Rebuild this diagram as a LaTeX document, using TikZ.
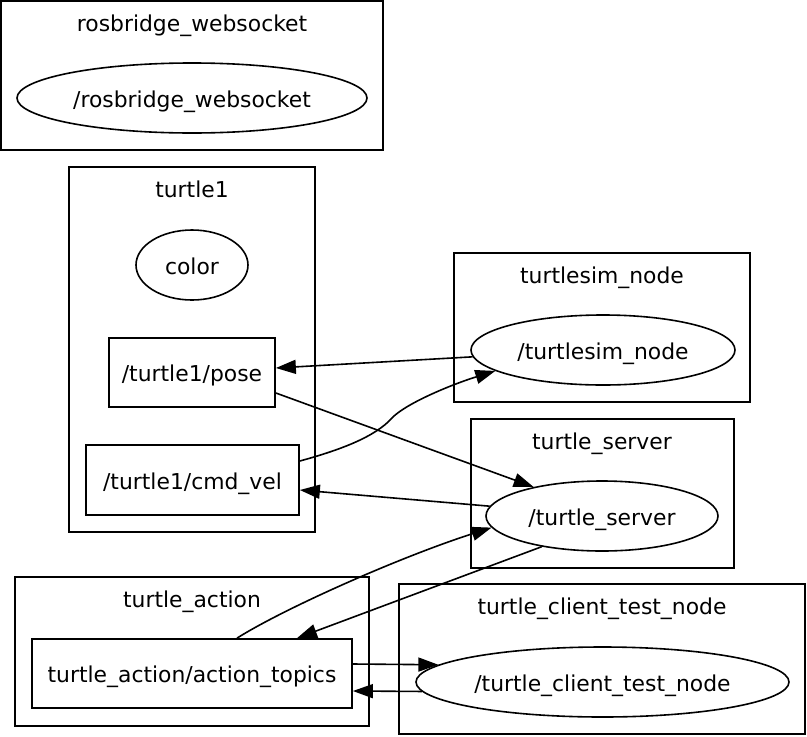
\documentclass[tikz,border=0pt]{standalone}
\usepackage{fontspec}
\setmainfont{DejaVu Sans}
\usetikzlibrary{shapes.geometric,arrows.meta,calc}
\def\pxl{0.75pt}
\begin{document}
\begin{tikzpicture}[x=0.75pt,y=-0.75pt,
  every node/.style={font=\fontsize{16.4}{19}\selectfont},
  cluster/.style={rectangle,draw,line width=1.3pt,inner sep=0pt},
  ctitle/.style={anchor=base,inner sep=0pt},
  ellnode/.style={ellipse,draw,line width=1.2pt,inner sep=0pt,text height=14pt,text depth=0.5pt},
  boxnode/.style={rectangle,draw,line width=1.3pt,inner sep=0pt,text height=14pt,text depth=0.5pt},
  edge/.style={line width=1.2pt,-{Triangle[length=15pt,width=10.5pt]}}]
\useasboundingbox (0,0) rectangle (807,736);
% clusters
\node[cluster,minimum width=382*\pxl,minimum height=149*\pxl] (crb) at (192,75.5) {};
\node[cluster,minimum width=246*\pxl,minimum height=365*\pxl] (ct1) at (192,349.5) {};
\node[cluster,minimum width=296*\pxl,minimum height=149*\pxl] (ctsim) at (602,327.5) {};
\node[cluster,minimum width=263*\pxl,minimum height=149*\pxl] (ctsrv) at (602.5,493.5) {};
\node[cluster,minimum width=354*\pxl,minimum height=149*\pxl] (cact) at (192,651.5) {};
\node[cluster,minimum width=406*\pxl,minimum height=150*\pxl] (ccli) at (602,659) {};
% titles
\node[ctitle] (trb) at (192,31) {rosbridge\_websocket};
\node[ctitle] (tt1) at (192,197) {turtle1};
\node[ctitle] (ttsim) at (602,283) {turtlesim\_node};
\node[ctitle] (ttsrv) at (602,449) {turtle\_server};
\node[ctitle] (tact) at (192,607) {turtle\_action};
\node[ctitle] (tcli) at (602,614) {turtle\_client\_test\_node};
% nodes
\node[ellnode,minimum width=350*\pxl,minimum height=70*\pxl] (rb) at (192,98) {/rosbridge\_websocket};
\node[ellnode,minimum width=112*\pxl,minimum height=70*\pxl] (color) at (192,265) {color};
\node[boxnode,minimum width=166*\pxl,minimum height=69*\pxl] (pose) at (192,372.5) {/turtle1/pose};
\node[boxnode,minimum width=213*\pxl,minimum height=70*\pxl] (cmd) at (192.5,480) {/turtle1/cmd\_vel};
\node[ellnode,minimum width=264*\pxl,minimum height=70*\pxl] (tsim) at (603,350) {/turtlesim\_node};
\node[ellnode,minimum width=232*\pxl,minimum height=70*\pxl] (tsrv) at (602,516) {/turtle\_server};
\node[boxnode,minimum width=320*\pxl,minimum height=69*\pxl] (act) at (192,673.5) {turtle\_action/action\_topics};
\node[ellnode,minimum width=373*\pxl,minimum height=70*\pxl] (cli) at (602.5,682) {/turtle\_client\_test\_node};
% edges
\draw[edge] (tsim.183) -- ($(pose.east)+(0,-4.5)$);
\draw[edge] ($(pose.east)+(0,20.5)$) -- (tsrv.157);
\draw[edge] ($(cmd.east)+(0,-19)$) .. controls (340,450) and (375,437) .. (392,418) .. controls (405,404) and (450,385) .. (tsim.191);
\draw[edge] (tsrv.175) -- ($(cmd.east)+(0,10)$);
\draw[edge] ($(act.north)+(45,0)$) .. controls (285,608) and (400,557) .. (tsrv.186);
\draw[edge] (tsrv.207) -- ($(act.north)+(105,0)$);
\draw[edge] ($(act.east)+(0,-9.5)$) -- (cli.174.5);
\draw[edge] (cli.183) -- ($(act.east)+(0,17.5)$);
\end{tikzpicture}
\end{document}
